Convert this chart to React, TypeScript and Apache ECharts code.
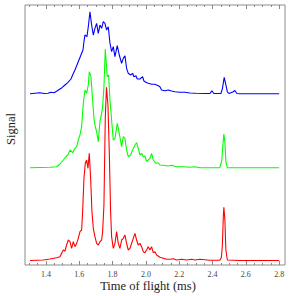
import React, { useEffect, useRef } from "react";
import * as echarts from "echarts";

// [time of flight (ms), signal (a.u.)]
const blueTrace: [number, number][] = [
  [1.304, 0], [1.364, 1.1], [1.388, 0.3], [1.412, 0.5], [1.43, 1.5], [1.448, 1.1],
  [1.466, 2.8], [1.484, 4.8], [1.496, 6.1], [1.514, 8.8], [1.532, 11.5], [1.55, 14.8],
  [1.562, 19.5], [1.574, 23.8], [1.586, 28.8], [1.598, 33.8], [1.61, 38.8], [1.622, 43.8],
  [1.628, 52.1], [1.634, 58.8], [1.646, 57.1], [1.654, 67.1], [1.664, 82.1], [1.674, 68.8],
  [1.684, 58.8], [1.694, 65.5], [1.704, 70.5], [1.714, 60.5], [1.724, 68.8], [1.734, 65.5],
  [1.744, 72.1], [1.754, 70.5], [1.764, 63.8], [1.774, 67.1], [1.784, 50.8], [1.794, 42.1],
  [1.804, 47.1], [1.814, 37.1], [1.828, 48.1], [1.84, 38.8], [1.854, 30.5], [1.864, 35.5],
  [1.874, 38.1], [1.884, 25.5], [1.894, 20.5], [1.908, 18.8], [1.92, 20.5], [1.928, 17.1],
  [1.94, 18.1], [1.948, 14.8], [1.964, 14.8], [1.98, 17.1], [1.988, 12.8], [2.0, 11.5],
  [2.014, 10.5], [2.034, 9.5], [2.054, 9.5], [2.074, 8.1], [2.084, 7.1], [2.094, 3.8],
  [2.114, 3.1], [2.134, 3.8], [2.154, 2.8], [2.174, 2.1], [2.204, 1.5], [2.234, 1.5],
  [2.264, 0.8], [2.3, 0.5], [2.354, 0.3], [2.384, 0.3], [2.396, 3], [2.408, 0.3],
  [2.45, 0.3], [2.459, 5], [2.47, 16.5], [2.48, 9], [2.489, 2], [2.498, 0.3],
  [2.522, 1.8], [2.534, 3.3], [2.546, 0.3], [2.564, 0], [2.8, 0],
];

const greenTrace: [number, number][] = [
  [1.304, 0.3], [1.424, 0.7], [1.464, 1.3], [1.484, 4], [1.504, 8], [1.52, 11.3],
  [1.534, 13.7], [1.544, 18], [1.56, 15.3], [1.574, 19.7], [1.584, 21.3], [1.594, 28],
  [1.604, 33], [1.614, 41.3], [1.624, 64.7], [1.634, 78], [1.644, 74.7], [1.654, 83],
  [1.66, 96.3], [1.67, 91.3], [1.68, 68], [1.688, 49.7], [1.696, 41.3], [1.704, 36.3],
  [1.714, 26.3], [1.724, 46.3], [1.734, 54.7], [1.74, 61.3], [1.748, 81.3], [1.756, 118.7],
  [1.768, 91.3], [1.776, 93], [1.784, 68], [1.794, 48], [1.804, 28], [1.814, 29.7],
  [1.828, 44.7], [1.84, 34.7], [1.854, 21.3], [1.864, 31.3], [1.874, 29.7], [1.884, 18],
  [1.894, 11.3], [1.908, 13], [1.92, 18], [1.934, 23], [1.944, 25.3], [1.954, 19.7],
  [1.964, 13], [1.974, 14.7], [1.984, 11.3], [1.994, 12], [2.004, 6.3], [2.024, 9.7],
  [2.034, 14.7], [2.044, 8], [2.06, 4.7], [2.074, 5.3], [2.084, 3], [2.104, 2.7],
  [2.134, 2], [2.154, 2.7], [2.184, 1.3], [2.224, 1.3], [2.264, 0.7], [2.294, 1.3],
  [2.324, 0.3], [2.444, 0.3], [2.456, 8], [2.462, 23], [2.468, 34], [2.474, 26],
  [2.48, 6], [2.489, 0.3], [2.564, 0.3], [2.8, 0.3],
];

const redTrace: [number, number][] = [
  [1.304, 0], [1.384, 0.5], [1.424, 1.5], [1.464, 2.8], [1.484, 3.8], [1.494, 7.2],
  [1.504, 10.5], [1.514, 9.5], [1.524, 15.5], [1.534, 20.5], [1.544, 18.8], [1.554, 12.2],
  [1.564, 18.8], [1.574, 13.8], [1.584, 17.2], [1.594, 22.2], [1.604, 28.8], [1.614, 30.5],
  [1.62, 48.8], [1.628, 82.2], [1.636, 97.2], [1.644, 100.5], [1.652, 92.2], [1.66, 107.2],
  [1.668, 82.2], [1.676, 48.8], [1.684, 32.2], [1.694, 23.8], [1.704, 17.2], [1.714, 15.5],
  [1.724, 18.8], [1.734, 20.5], [1.74, 28.8], [1.748, 55.5], [1.756, 142.2], [1.763, 173.2],
  [1.772, 155.5], [1.78, 108.8], [1.788, 48.8], [1.794, 23.8], [1.804, 12.2], [1.814, 17.2],
  [1.824, 28.8], [1.834, 17.2], [1.844, 12.2], [1.854, 20.5], [1.864, 22.2], [1.874, 25.5],
  [1.884, 17.2], [1.894, 10.5], [1.904, 12.2], [1.914, 17.2], [1.924, 22.2], [1.934, 27.2],
  [1.944, 20.5], [1.954, 15.5], [1.964, 17.2], [1.974, 13.8], [1.984, 8.8], [1.994, 7.8],
  [2.004, 10.5], [2.014, 13.8], [2.024, 10.5], [2.034, 13.8], [2.044, 7.8], [2.054, 8.8],
  [2.064, 5.5], [2.084, 3.2], [2.104, 2.2], [2.124, 1.2], [2.144, 1.2], [2.164, 1.8],
  [2.184, 0.5], [2.214, 1.2], [2.244, 0.5], [2.274, 1.2], [2.294, 0.5], [2.324, 1.2],
  [2.384, 0.3], [2.444, 0.3], [2.453, 3], [2.459, 15.5], [2.465, 45.5], [2.468, 53.2],
  [2.474, 40.5], [2.48, 10.5], [2.489, 0.5], [2.564, 0], [2.8, 0],
];

const majorTicks = [1.4, 1.6, 1.8, 2.0, 2.2, 2.4, 2.6, 2.8];
const minorTicks = [
  1.3, 1.35, 1.45, 1.5, 1.55, 1.65, 1.7, 1.75, 1.85, 1.9, 1.95, 2.05, 2.1, 2.15,
  2.25, 2.3, 2.35, 2.45, 2.5, 2.55, 2.65, 2.7, 2.75,
];

const xTitle = "Time of flight (ms)";
const yTitle = "Signal";

// vertical offsets of stacked traces (display layout)
const OFFSET_BLUE = 171.2;
const OFFSET_GREEN = 97;
const OFFSET_RED = 4.5;

const X_MIN = 1.274;
const X_MAX = 2.835;

export default function App() {
  const ref = useRef<HTMLDivElement>(null);
  useEffect(() => {
    if (!ref.current) return;
    const chart = echarts.init(ref.current, null, { renderer: "svg" });
    const serif = "'Liberation Serif', 'DejaVu Serif', serif";
    const tickAxis = (position: "top" | "bottom", values: number[], len: number, labels: boolean) => ({
      type: "value",
      position,
      min: X_MIN,
      max: X_MAX,
      axisLine: { show: false },
      splitLine: { show: false },
      axisTick: {
        show: true,
        inside: true,
        length: len,
        customValues: values,
        lineStyle: { color: "#888", width: 1 },
      },
      axisLabel: labels
        ? {
            show: true,
            customValues: values,
            formatter: (v: number) => v.toFixed(1),
            fontFamily: serif,
            fontSize: 8,
            color: "#444",
            margin: 5,
          }
        : { show: false },
    });
    const shift = (d: [number, number][], off: number) => d.map(([t, v]) => [t, v + off]);
    chart.setOption({
      animation: false,
      grid: {
        left: 25,
        right: 11,
        top: 5,
        bottom: 31,
        show: true,
        borderColor: "#8c8c8c",
        borderWidth: 1,
        backgroundColor: "transparent",
      },
      xAxis: [
        tickAxis("bottom", majorTicks, 4, true),
        tickAxis("bottom", minorTicks, 2, false),
        tickAxis("top", majorTicks, 4, false),
        tickAxis("top", minorTicks, 2, false),
      ],
      yAxis: {
        type: "value",
        min: 0,
        max: 260,
        axisLine: { show: false },
        axisTick: { show: false },
        axisLabel: { show: false },
        splitLine: { show: false },
      },
      graphic: [
        {
          type: "text",
          x: 148,
          y: 286,
          style: {
            text: xTitle,
            font: `12.5px ${serif}`,
            fill: "#222",
            textAlign: "center",
            textVerticalAlign: "middle",
          },
        },
        {
          type: "text",
          x: 11,
          y: 129,
          rotation: Math.PI / 2,
          style: {
            text: yTitle,
            font: `12.5px ${serif}`,
            fill: "#222",
            textAlign: "center",
            textVerticalAlign: "middle",
          },
        },
      ],
      series: [
        {
          type: "line",
          xAxisIndex: 0,
          data: shift(blueTrace, OFFSET_BLUE),
          showSymbol: false,
          lineStyle: { color: "#0000ff", width: 1.1 },
          itemStyle: { color: "#0000ff" },
        },
        {
          type: "line",
          xAxisIndex: 0,
          data: shift(greenTrace, OFFSET_GREEN),
          showSymbol: false,
          lineStyle: { color: "#00ff00", width: 1.1 },
          itemStyle: { color: "#00ff00" },
        },
        {
          type: "line",
          xAxisIndex: 0,
          data: shift(redTrace, OFFSET_RED),
          showSymbol: false,
          lineStyle: { color: "#ff0000", width: 1.1 },
          itemStyle: { color: "#ff0000" },
        },
      ],
    });
    return () => chart.dispose();
  }, []);
  return (
    <div
      ref={ref}
      style={{ position: "fixed", left: 0, top: 0, width: 296, height: 296, background: "#fff" }}
    />
  );
}
